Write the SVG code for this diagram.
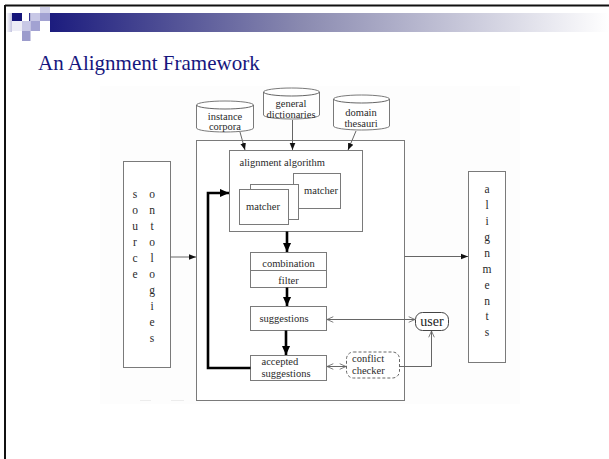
<svg xmlns="http://www.w3.org/2000/svg" width="609" height="459" viewBox="0 0 609 459">
  <defs>
    <linearGradient id="band" x1="0" y1="0" x2="1" y2="0">
      <stop offset="0" stop-color="#1c1c7e"/>
      <stop offset="0.45" stop-color="#8a8ab0"/>
      <stop offset="1" stop-color="#ffffff"/>
    </linearGradient>
    <linearGradient id="fade" x1="0" y1="0" x2="1" y2="0">
      <stop offset="0" stop-color="#ffffff"/>
      <stop offset="1" stop-color="#c4c4e0"/>
    </linearGradient>
    <marker id="tip" viewBox="0 0 10 10" refX="10" refY="5" markerWidth="7" markerHeight="7" markerUnits="userSpaceOnUse" orient="auto">
      <path d="M0,1 L10,5 L0,9 Z" fill="#111"/>
    </marker>
    <marker id="tipBold" viewBox="0 0 10 10" refX="10" refY="5" markerWidth="9" markerHeight="9" markerUnits="userSpaceOnUse" orient="auto">
      <path d="M0,0.5 L10,5 L0,9.5 Z" fill="#000"/>
    </marker>
    <marker id="open" viewBox="0 0 10 10" refX="10" refY="5" markerWidth="7" markerHeight="7" markerUnits="userSpaceOnUse" orient="auto-start-reverse">
      <path d="M1,1 L10,5 L1,9" fill="none" stroke="#666" stroke-width="1.2"/>
    </marker>
  </defs>
  <style>
    .box { fill: #fff; stroke: #7a7a7a; stroke-width: 1; }
    .lbl { font-family: "Liberation Serif", "Times New Roman", serif; font-size: 10.5px; fill: #2a2a2a; }
    .mid { text-anchor: middle; }
    .vert { font-family: "Liberation Serif", "Times New Roman", serif; font-size: 11.5px; fill: #2a2a2a; text-anchor: middle; }
    .thin { fill: none; stroke: #666; stroke-width: 1; }
    .bold { fill: none; stroke: #000; stroke-width: 2.6; }
  </style>

  <!-- slide frame and header -->
  <rect x="0" y="0" width="609" height="459" fill="#fff"/>
  <line x1="5" y1="5.5" x2="609" y2="5.5" stroke="#111" stroke-width="2"/>
  <line x1="5" y1="5" x2="5" y2="459" stroke="#111" stroke-width="2"/>
  <rect x="50" y="13" width="559" height="19" fill="url(#band)"/>
  <rect x="6" y="13" width="6" height="19" fill="url(#fade)"/>
  <rect x="12" y="13" width="10" height="8" fill="#14147a"/>
  <rect x="29" y="13" width="1.5" height="8" fill="#3a3a90"/>
  <rect x="30.5" y="13" width="9.5" height="8" fill="#c8c8e6"/>
  <rect x="40" y="7" width="10" height="6" fill="#cfcfe8"/>
  <rect x="40" y="13" width="10" height="8" fill="#a2a2d2"/>
  <rect x="12" y="21" width="10" height="10" fill="#ececf6"/>
  <rect x="22" y="21" width="8.5" height="10" fill="#c8c8e6"/>
  <rect x="30.5" y="21" width="9.5" height="10" fill="#a2a2d2"/>
  <rect x="22" y="31" width="8.5" height="10" fill="#9c9ccc"/>
  <text x="38" y="70" font-family="Liberation Serif, Times New Roman, serif" font-size="21" fill="#16167e">An Alignment Framework</text>

  <!-- faint backdrop of the figure -->
  <rect x="100" y="86" width="420" height="318" fill="#fdfdfd"/>
  <line x1="140" y1="400.5" x2="151" y2="400.5" stroke="#ececec" stroke-width="1"/>
  <line x1="171" y1="400.5" x2="184" y2="400.5" stroke="#ececec" stroke-width="1"/>

  <!-- framework container -->
  <g id="framework">
    <rect class="box" x="196.5" y="140.5" width="208" height="260"/>
  </g>

  <!-- sources -->
  <g id="instance-corpora">
    <path class="box" d="M196.5,105 A28.5,4 0 0 1 253.5,105 L253.5,128 A28.5,4 0 0 1 196.5,128 Z"/>
    <path class="thin" stroke="#7a7a7a" d="M196.5,105 A28.5,4 0 0 0 253.5,105"/>
    <text class="lbl mid" x="225" y="119.5">instance</text>
    <text class="lbl mid" x="225" y="130">corpora</text>
  </g>
  <g id="general-dictionaries">
    <path class="box" d="M263.5,92 A28,4 0 0 1 319.5,92 L319.5,115 A28,4 0 0 1 263.5,115 Z"/>
    <path class="thin" stroke="#7a7a7a" d="M263.5,92 A28,4 0 0 0 319.5,92"/>
    <text class="lbl mid" x="291" y="106.5">general</text>
    <text class="lbl mid" x="291" y="117.5">dictionaries</text>
  </g>
  <g id="domain-thesauri">
    <path class="box" d="M333.5,99 A28,4 0 0 1 389.5,99 L389.5,126 A28,4 0 0 1 333.5,126 Z"/>
    <path class="thin" stroke="#7a7a7a" d="M333.5,99 A28,4 0 0 0 389.5,99"/>
    <text class="lbl mid" x="361" y="116">domain</text>
    <text class="lbl mid" x="361" y="126.5">thesauri</text>
  </g>

  <g id="source-ontologies">
    <rect class="box" x="123.5" y="161.5" width="47" height="206"/>
    <text class="vert" x="135" y="198">s</text>
    <text class="vert" x="135" y="214">o</text>
    <text class="vert" x="135" y="230">u</text>
    <text class="vert" x="135" y="246">r</text>
    <text class="vert" x="135" y="262">c</text>
    <text class="vert" x="135" y="278">e</text>
    <text class="vert" x="152" y="198">o</text>
    <text class="vert" x="152" y="214">n</text>
    <text class="vert" x="152" y="230">t</text>
    <text class="vert" x="152" y="246">o</text>
    <text class="vert" x="152" y="262">l</text>
    <text class="vert" x="152" y="278">o</text>
    <text class="vert" x="152" y="294">g</text>
    <text class="vert" x="152" y="310">i</text>
    <text class="vert" x="152" y="326">e</text>
    <text class="vert" x="152" y="342">s</text>
  </g>

  <g id="alignments">
    <rect class="box" x="468.5" y="171.5" width="37" height="191"/>
    <text class="vert" x="487" y="193">a</text>
    <text class="vert" x="487" y="209">l</text>
    <text class="vert" x="487" y="224.5">i</text>
    <text class="vert" x="487" y="240.5">g</text>
    <text class="vert" x="487" y="256.5">n</text>
    <text class="vert" x="487" y="272.5">m</text>
    <text class="vert" x="487" y="288.5">e</text>
    <text class="vert" x="487" y="304.5">n</text>
    <text class="vert" x="487" y="320">t</text>
    <text class="vert" x="487" y="336">s</text>
  </g>

  <!-- alignment algorithm with stacked matchers -->
  <g id="alignment-algorithm">
    <rect class="box" x="229.5" y="150.5" width="133" height="81"/>
    <text class="lbl" x="239.5" y="166">alignment algorithm</text>
  </g>
  <g id="matcher-back">
    <rect class="box" x="293.5" y="173.5" width="47" height="35"/>
    <text class="lbl mid" x="321" y="193.5">matcher</text>
  </g>
  <g id="matcher-front">
    <rect class="box" x="250.5" y="184.5" width="48" height="35"/>
    <rect class="box" x="239.5" y="189.5" width="49" height="35"/>
    <text class="lbl mid" x="263" y="210">matcher</text>
  </g>

  <g id="combination-filter">
    <rect class="box" x="250.5" y="252.5" width="76" height="35"/>
    <line x1="250.5" y1="270.5" x2="326.5" y2="270.5" stroke="#7a7a7a" stroke-width="1"/>
    <text class="lbl mid" x="288.5" y="266.5">combination</text>
    <text class="lbl mid" x="288.5" y="284">filter</text>
  </g>
  <g id="suggestions">
    <rect class="box" x="250.5" y="306.5" width="76" height="24"/>
    <text class="lbl mid" x="284" y="321.5">suggestions</text>
  </g>
  <g id="accepted-suggestions">
    <rect class="box" x="250.5" y="355.5" width="76" height="25"/>
    <text class="lbl" x="261.5" y="365">accepted</text>
    <text class="lbl" x="261.5" y="377">suggestions</text>
  </g>
  <g id="conflict-checker">
    <rect x="346.5" y="352" width="53" height="26" rx="7" fill="#fff" stroke="#666" stroke-width="1" stroke-dasharray="3,2"/>
    <text class="lbl" x="352" y="361.5">conflict</text>
    <text class="lbl" x="352" y="373.5">checker</text>
  </g>
  <g id="user">
    <rect x="415.5" y="312.5" width="33" height="18" rx="7" fill="#fff" stroke="#444" stroke-width="1"/>
    <text x="432" y="326" text-anchor="middle" font-family="Liberation Serif, Times New Roman, serif" font-size="14" fill="#222">user</text>
  </g>

  <!-- connectors -->
  <g id="connectors">
    <line class="thin" x1="240" y1="132" x2="245" y2="150" marker-end="url(#tip)"/>
    <line class="thin" x1="292.5" y1="120" x2="292.5" y2="150" marker-end="url(#tip)"/>
    <line class="thin" x1="356" y1="131" x2="348" y2="150" marker-end="url(#tip)"/>
    <line class="thin" x1="170.5" y1="257" x2="196" y2="257" marker-end="url(#tip)"/>
    <line class="thin" x1="404.5" y1="256.5" x2="468" y2="256.5" marker-end="url(#tip)"/>
    <line class="bold" x1="287" y1="231.5" x2="287" y2="252" marker-end="url(#tipBold)"/>
    <line class="bold" x1="287" y1="287.5" x2="287" y2="306" marker-end="url(#tipBold)"/>
    <line class="bold" x1="286" y1="330.5" x2="286" y2="355" marker-end="url(#tipBold)"/>
    <polyline class="bold" points="250.5,368 208,368 208,193 229,193" marker-end="url(#tipBold)"/>
    <line class="thin" x1="327" y1="319.5" x2="415" y2="319.5" marker-start="url(#open)" marker-end="url(#open)"/>
    <line class="thin" x1="327" y1="366.5" x2="346" y2="366.5" marker-start="url(#open)" marker-end="url(#open)"/>
    <polyline class="thin" points="399.5,366.5 431.5,366.5 431.5,331" marker-end="url(#open)"/>
  </g>
</svg>
